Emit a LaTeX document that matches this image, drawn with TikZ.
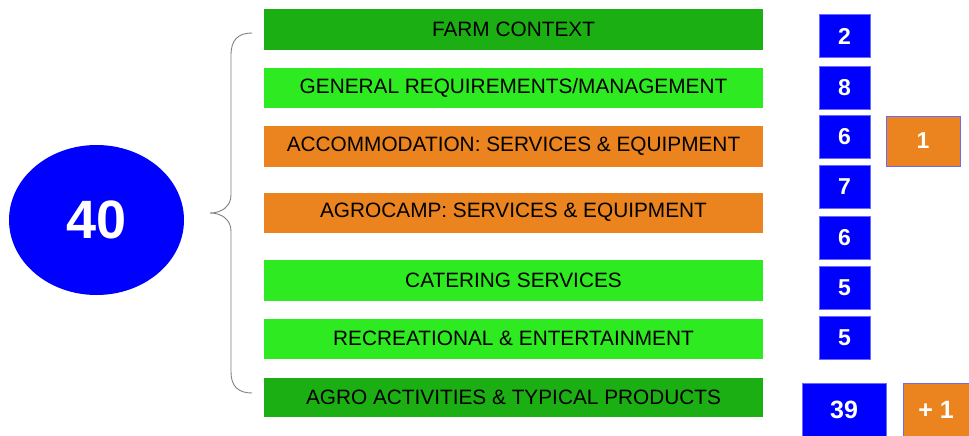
\documentclass[tikz,border=0pt]{standalone}
\usepackage{fontspec}
\setmainfont{Liberation Sans}
\usetikzlibrary{shapes.geometric}
\definecolor{dkgreen}{HTML}{1CAF14}
\definecolor{ltgreen}{HTML}{2EEA21}
\definecolor{orng}{HTML}{EB841F}
\definecolor{bblue}{HTML}{0000FF}
\definecolor{bedge}{HTML}{6A6AFF}
\definecolor{braceg}{HTML}{7F7F7F}
\begin{document}
\begin{tikzpicture}[x=1pt,y=-1pt,
  bar/.style={rectangle,inner sep=0pt,minimum width=500pt,draw=white,line width=0.6pt,
    font=\fontsize{20.8}{21}\selectfont},
  num/.style={rectangle,inner sep=0pt,fill=bblue,draw=bedge,line width=0.6pt,text=white,
    font=\bfseries\fontsize{23}{23}\selectfont,minimum width=51pt,minimum height=43pt},
  extra/.style={rectangle,inner sep=0pt,fill=orng,draw=bedge,line width=0.8pt,text=white,
    font=\bfseries\fontsize{23}{23}\selectfont},
  bracestyle/.style={draw=braceg,line width=0.9pt}
]
\useasboundingbox (0,0) rectangle (969,436);
% big ellipse
\node[ellipse,fill=bblue,inner sep=0pt,minimum width=175pt,minimum height=150pt,
  text=white,font=\bfseries\fontsize{54}{54}\selectfont] (total) at (96.5,220) {40};
% brace
\coordinate (bt) at (252,33);
\coordinate (btip) at (210,213);
\coordinate (bb) at (252,393);
\draw[bracestyle] (bt) .. controls (238,33) and (231,40) .. (231,55)
  -- (231,195) .. controls (231,206) and (222,213) .. (btip)
  .. controls (222,213) and (231,220) .. (231,231)
  -- (231,372) .. controls (231,386) and (238,393) .. (bb);
% bars
\node[bar,fill=dkgreen,minimum height=42pt] (b1) at (513.5,29) {FARM CONTEXT};
\node[bar,fill=ltgreen,minimum height=41pt] (b2) at (513.5,87.5) {GENERAL REQUIREMENTS/MANAGEMENT};
\node[bar,fill=orng,minimum height=42pt] (b3) at (513.5,146) {ACCOMMODATION: SERVICES \& EQUIPMENT};
\node[bar,fill=orng,minimum height=41pt] (b4) at (513.5,212.5) {AGROCAMP: SERVICES \& EQUIPMENT};
\node[bar,fill=ltgreen,minimum height=42pt] (b5) at (513.5,280) {CATERING SERVICES};
\node[bar,fill=ltgreen,minimum height=41pt] (b6) at (513.5,338.5) {RECREATIONAL \& ENTERTAINMENT};
\node[bar,fill=dkgreen,minimum height=40pt] (b7) at (513.5,397) {AGRO ACTIVITIES \& TYPICAL PRODUCTS};
% numbers
\node[num] (n1) at (844.5,36) {2};
\node[num] (n2) at (844.5,87.5) {8};
\node[num] (n3) at (844.5,137) {6};
\node[num] (n4) at (844.5,186.5) {7};
\node[num] (n5) at (844.5,237.5) {6};
\node[num] (n6) at (844.5,287.5) {5};
\node[num] (n7) at (844.5,337.5) {5};
\node[num,minimum width=84pt,minimum height=53pt,font=\bfseries\fontsize{25}{25}\selectfont] (n8) at (844,409.5) {39};
\node[extra,minimum width=74pt,minimum height=50pt] (x1) at (923,141) {1};
\node[extra,minimum width=66pt,minimum height=53pt,font=\bfseries\fontsize{25}{25}\selectfont] (x2) at (936,409.5) {+ 1};
\end{tikzpicture}
\end{document}
